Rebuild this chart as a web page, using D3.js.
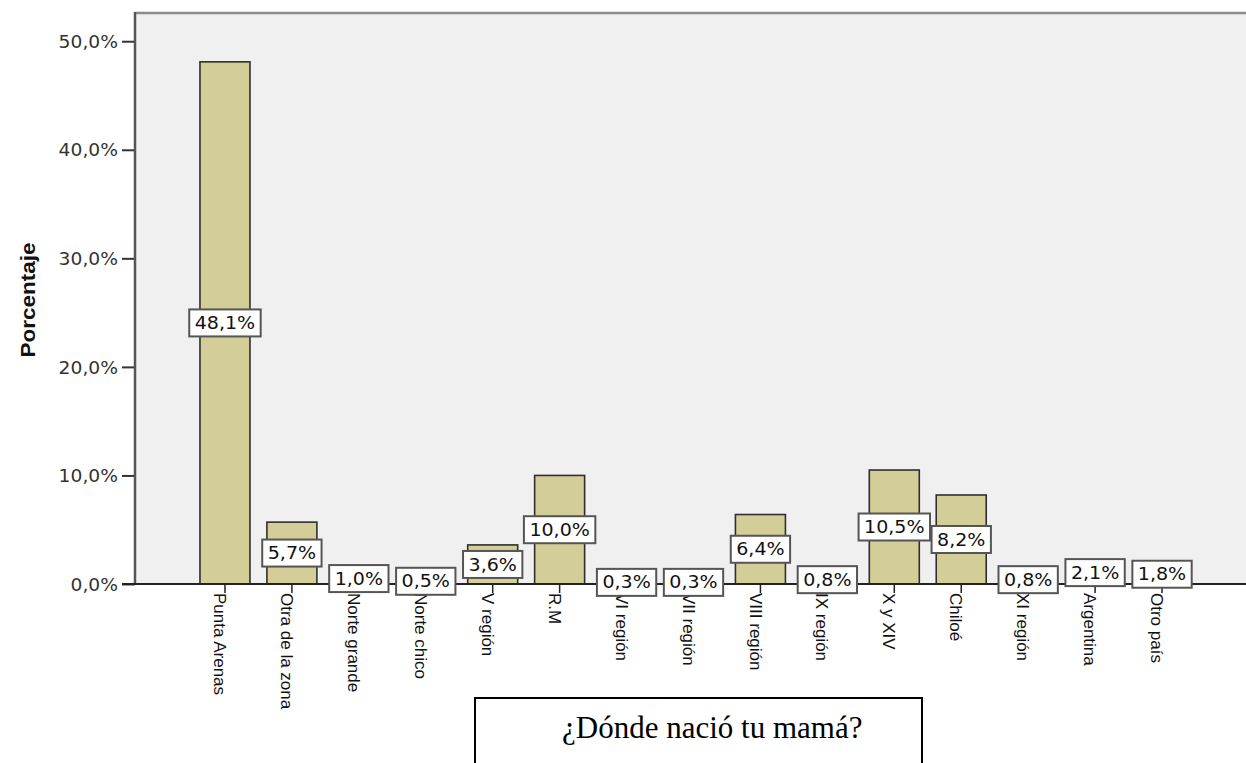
<!DOCTYPE html>
<html>
<head>
<meta charset="utf-8">
<script src="https://cdn.jsdelivr.net/npm/d3@7"></script>
<style>
  html, body { margin: 0; padding: 0; background: #fff; }
  svg { display: block; }
</style>
</head>
<body>
<svg id="chart" width="1246" height="763"></svg>
<script>
const categories = ["Punta Arenas", "Otra de la zona", "Norte grande", "Norte chico", "V región", "R.M", "VI región", "VII región", "VIII región", "IX región", "X y XIV", "Chiloé", "XI región", "Argentina", "Otro país"];
const values = [48.1, 5.7, 1.0, 0.5, 3.6, 10.0, 0.3, 0.3, 6.4, 0.8, 10.5, 8.2, 0.8, 2.1, 1.8];
const yTicks = [0, 10, 20, 30, 40, 50];
const yTitle = "Porcentaje";
const chartTitle = "¿Dónde nació tu mamá?";

const fmt = v => v.toFixed(1).replace(".", ",") + "%";

const svg = d3.select("#chart");
const plotLeft = 135, plotTop = 13, plotBottom = 584, plotRight = 1246;

const x = d3.scaleBand()
  .domain(categories)
  .range([191.5, 1195.5])
  .paddingInner(0.253)
  .paddingOuter(0.1265);

const y = d3.scaleLinear()
  .domain([0, 52.6])
  .range([plotBottom, plotTop]);

// plot background
svg.append("rect")
  .attr("x", plotLeft).attr("y", plotTop)
  .attr("width", plotRight - plotLeft).attr("height", plotBottom - plotTop)
  .attr("fill", "#f0f0f0");

// top border
svg.append("line")
  .attr("x1", plotLeft).attr("x2", plotRight)
  .attr("y1", plotTop).attr("y2", plotTop)
  .attr("stroke", "#8a8a8a").attr("stroke-width", 2.5);

// bars
svg.append("g").selectAll("rect")
  .data(values)
  .join("rect")
  .attr("x", (d, i) => x(categories[i]))
  .attr("y", d => y(d))
  .attr("width", x.bandwidth())
  .attr("height", d => y(0) - y(d))
  .attr("fill", "#d3cd97")
  .attr("stroke", "#2f2f2f")
  .attr("stroke-width", 1.6);

// y axis
const yAxis = d3.axisLeft(y)
  .tickValues(yTicks)
  .tickFormat(fmt)
  .tickSize(13)
  .tickPadding(4);
const gy = svg.append("g")
  .attr("transform", `translate(${plotLeft},0)`)
  .call(yAxis);
gy.select(".domain").remove();
gy.selectAll(".tick line").attr("stroke", "#333").attr("stroke-width", 2);
gy.selectAll(".tick text")
  .attr("font-family", "DejaVu Sans, sans-serif")
  .attr("font-size", 17)
  .attr("fill", "#333")
  .attr("text-anchor", "end")
  .attr("dy", "0.36em");
gy.selectAll(".tick text").each(function () {
  const t = d3.select(this);
  const xx = +t.attr("x");
  t.attr("x", null).attr("transform", `translate(${xx},0) scale(1.1,1)`);
});
svg.append("line")
  .attr("x1", plotLeft).attr("x2", plotLeft)
  .attr("y1", plotTop - 1).attr("y2", plotBottom)
  .attr("stroke", "#555").attr("stroke-width", 2.5);

// x axis
const xAxis = d3.axisBottom(x).tickSize(9).tickFormat("");
const gx = svg.append("g")
  .attr("transform", `translate(0,${plotBottom})`)
  .call(xAxis);
gx.select(".domain").remove();
gx.selectAll(".tick line").attr("stroke", "#222").attr("stroke-width", 1.5);
svg.append("line")
  .attr("x1", plotLeft - 13).attr("x2", plotRight)
  .attr("y1", plotBottom).attr("y2", plotBottom)
  .attr("stroke", "#222").attr("stroke-width", 1.8);

// x labels rotated
svg.append("g").selectAll("text")
  .data(categories)
  .join("text")
  .attr("transform", d => `translate(${x(d) + x.bandwidth() / 2},593) rotate(90)`)
  .attr("y", 0)
  .attr("dy", "0.64em")
  .attr("text-anchor", "start")
  .attr("font-family", "'Liberation Sans Narrow', 'Arial Narrow', sans-serif")
  .attr("font-size", 17)
  .attr("fill", "#111")
  .text(d => d);

// value labels
const lab = svg.append("g").selectAll("g")
  .data(values)
  .join("g")
  .attr("transform", (d, i) => `translate(${x(categories[i]) + x.bandwidth() / 2},${(y(0) + y(d)) / 2})`);
lab.each(function (d) {
  const g = d3.select(this);
  const inner = g.append("g").attr("transform", "scale(1.12,1)");
  const t = inner.append("text")
    .attr("text-anchor", "middle")
    .attr("dy", "0.36em")
    .attr("font-family", "DejaVu Sans, sans-serif")
    .attr("font-size", 17)
    .attr("fill", "#111")
    .text(fmt(d));
  const bb = t.node().getBBox();
  const w = bb.width * 1.12 + 11;
  const h = 27;
  g.insert("rect", ":first-child")
    .attr("x", -w / 2).attr("y", -h / 2)
    .attr("width", w).attr("height", h)
    .attr("fill", "#fff")
    .attr("stroke", "#555")
    .attr("stroke-width", 2);
});

// y title
svg.append("text")
  .attr("transform", "translate(35,300) rotate(-90)")
  .attr("text-anchor", "middle")
  .attr("font-family", "'Liberation Sans Narrow', 'Arial Narrow', sans-serif")
  .attr("font-weight", "bold")
  .attr("font-size", 21)
  .attr("textLength", 115)
  .attr("lengthAdjust", "spacingAndGlyphs")
  .attr("fill", "#111")
  .text(yTitle);

// title box
svg.append("rect")
  .attr("x", 475).attr("y", 698)
  .attr("width", 447).attr("height", 80)
  .attr("fill", "#fff")
  .attr("stroke", "#000")
  .attr("stroke-width", 2);
svg.append("text")
  .attr("x", 562).attr("y", 738)
  .attr("font-family", "Liberation Serif, 'Times New Roman', serif")
  .attr("font-size", 31)
  .attr("fill", "#000")
  .text(chartTitle);
</script>
</body>
</html>
